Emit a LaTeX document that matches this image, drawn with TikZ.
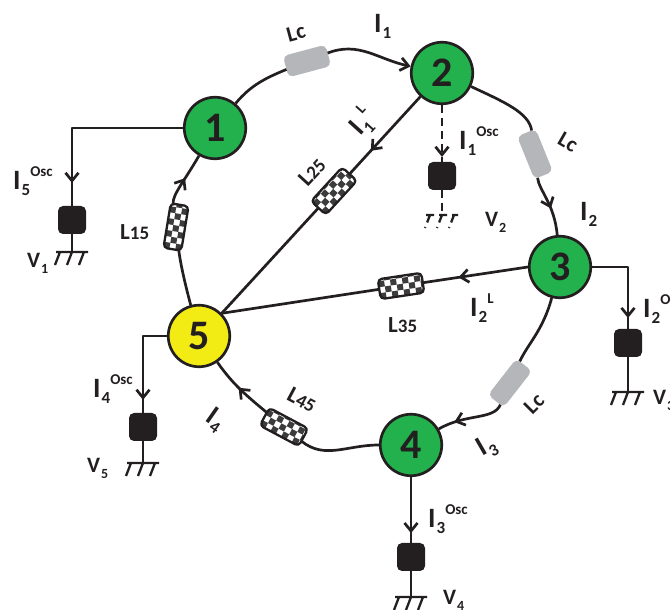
\documentclass[tikz,border=0pt]{standalone}
\usepackage{fontspec}
\setmainfont{Carlito}
\usetikzlibrary{arrows.meta,decorations.markings}
\definecolor{ink}{RGB}{35,31,32}
\definecolor{ngreen}{RGB}{34,177,76}
\definecolor{nyellow}{RGB}{242,235,20}
\definecolor{lgray}{RGB}{180,182,186}
\definecolor{chkdark}{RGB}{60,60,60}
\newcommand{\Icur}[2]{{\fontsize{28}{28}\selectfont I}\kern1pt\raisebox{-6pt}{\fontsize{17}{17}\selectfont #1}\raisebox{13pt}{\fontsize{15}{15}\selectfont #2}}
\newcommand{\Vlab}[1]{{\fontsize{22}{22}\selectfont V}\kern1pt\raisebox{-6pt}{\fontsize{14}{14}\selectfont #1}}
\newcommand{\Llab}[1]{{\fontsize{23}{23}\selectfont L}{\fontsize{19}{19}\selectfont #1}}
\tikzset{
  >={Straight Barb[length=8pt,width=13pt]},
  conn/.style={draw=ink, line width=2.7pt},
  dashpat/.style={dash pattern=on 8pt off 5pt},
  midarrow/.style={postaction={decorate,decoration={markings,mark=at position #1 with {\arrow{>}}}}},
  bus/.style={circle, draw=ink, line width=2.7pt, minimum size=61.5pt, inner sep=0pt, font=\fontsize{42}{42}\selectfont\bfseries, text=ink},
  sq/.style={fill=ink, rounded corners=5pt, minimum size=28pt, inner sep=0pt, outer sep=0pt},
  gbox/.style={fill=lgray, rounded corners=5pt, inner sep=0pt, outer sep=0pt},
  lab/.style={font=\bfseries, text=ink, inner sep=0pt},
  pics/chk/.style n args={2}{code={
    \begin{scope}
      \clip[rounded corners=4pt] (-#1/2,-#2/2) rectangle (#1/2,#2/2);
      \fill[white] (-#1/2,-#2/2) rectangle (#1/2,#2/2);
      \foreach \ci in {0,...,8}{
        \foreach \cj in {0,...,4}{
          \pgfmathtruncatemacro{\cp}{mod(\ci+\cj,2)}
          \ifnum\cp=0
            \fill[chkdark] ({-#1/2+\ci*6},{-#2/2+\cj*6}) rectangle ++(6,6);
          \fi
        }
      }
    \end{scope}
    \node[transform shape, draw=ink, line width=2.3pt, rounded corners=4pt, minimum width=#1pt, minimum height=#2pt, inner sep=0pt, outer sep=0pt] (-b) {};
  }},
  pics/gnd/.style={code={
    \draw[draw=ink, line width=2.3pt] (-16,0) -- (16,0) (-12,0) -- (-17,-13) (0,0) -- (-5,-13) (12,0) -- (7,-13);
  }}
}
\begin{document}
\begin{tikzpicture}[x=1pt,y=1pt,line join=round]
\useasboundingbox (0,0) rectangle (670,610);

% buses
\node[bus, fill=ngreen] (N1) at (215,482) {1};
\node[bus, fill=ngreen] (N2) at (442,537) {2};
\node[bus, fill=ngreen] (N3) at (560,343) {3};
\node[bus, fill=ngreen] (N4) at (411,165) {4};
\node[bus, fill=nyellow] (N5) at (199,274) {5};

% line elements
\node[gbox, rotate=15, minimum width=44pt, minimum height=22pt] (g12) at (307,549) {};
\node[gbox, rotate=-68, minimum width=46pt, minimum height=20pt] (g23) at (535,456) {};
\node[gbox, rotate=52, minimum width=46pt, minimum height=20pt] (g34) at (510,227) {};
\pic[rotate=80.6] (b15) at (176,383) {chk={45}{18}};
\pic[rotate=47.5] (b25) at (334,419) {chk={46}{20}};
\pic[rotate=8.5] (b35) at (401,324) {chk={44}{20}};
\pic[rotate=-28] (b45) at (284,183) {chk={44}{20}};

% ring
\draw[conn] (N1) to[out=50,in=195] (g12);
\draw[conn,->] (g12) to[out=15,in=168] (N2);
\draw[conn] (N2) to[out=-25,in=112] (g23);
\draw[conn,midarrow=0.55] (g23) to[out=-68,in=95] (N3);
\draw[conn] (N3) to[out=-105,in=52] (g34);
\draw[conn,midarrow=0.75] (g34) to[out=232,in=30] (N4);
\draw[conn] (N4) to[out=180,in=-28] (b45-b);
\draw[conn,midarrow=0.53] (b45-b) to[out=152,in=-55] (N5);
\draw[conn] (N5) to[out=105,in=260.6] (b15-b);
\draw[conn,midarrow=0.52] (b15-b) to[out=80.6,in=240] (N1);
% chords
\draw[conn,midarrow=0.7] (N2) -- (b25-b);
\draw[conn] (b25-b) -- (N5.north east);
\draw[conn,midarrow=0.66] (N3.west) -- (b35-b);
\draw[conn] (b35-b) -- (N5.north east);

% oscillator branches
\node[sq] (S1) at (72,390) {};
\coordinate (G1) at (72,358);
\draw[conn,midarrow=0.878] (N1.west) -| (S1);
\draw[conn] (S1) -- (G1);
\pic at (G1) {gnd};

\node[sq] (S2) at (442,434) {};
\coordinate (G2) at (442,395);
\draw[conn,dashpat,midarrow=0.91] (N2) -- (S2);
\draw[conn,dashpat] (S2) -- (G2);
\pic[dashpat] at (G2) {gnd};

\node[sq] (S3) at (628,267) {};
\coordinate (G3) at (628,218);
\draw[conn,midarrow=0.888] (N3.east) -| (S3);
\draw[conn] (S3) -- (G3);
\pic at (G3) {gnd};

\node[sq] (S4) at (411,53) {};
\coordinate (G4) at (411,13);
\draw[conn,midarrow=0.85] (N4) -- (S4);
\draw[conn] (S4) -- (G4);
\pic at (G4) {gnd};

\node[sq] (S5) at (143,183) {};
\coordinate (G5) at (143,147);
\draw[conn,midarrow=0.87] (N5.west) -| (S5);
\draw[conn] (S5) -- (G5);
\pic at (G5) {gnd};

% labels
\node[lab, anchor=base west] (t5osc) at (13,420) {\Icur{5}{Osc}};
\node[lab, anchor=base west] (tv1) at (27,342) {\Vlab{1}};
\node[lab, anchor=base west] (tl15) at (120,370) {\Llab{15}};
\node[lab, anchor=base west] (ti1) at (374,577) {\Icur{1}{}};
\node[lab, rotate=15] (tlc1) at (296,577) {\fontsize{22}{22}\selectfont Lc};
\node[lab, rotate=48] (ti1l) at (362,488) {\Icur{1}{L}};
\node[lab, rotate=47.5] (tl25) at (312,438) {\Llab{25}};
\node[lab, anchor=base west] (ti1osc) at (459,460) {\Icur{1}{Osc}};
\node[lab, anchor=base west] (tv2) at (485,383) {\Vlab{2}};
\node[lab, rotate=-30] (tlc2) at (568,468) {\fontsize{22}{22}\selectfont Lc};
\node[lab, anchor=base west] (ti2) at (580,389) {\Icur{2}{}};
\node[lab, anchor=base west] (ti2osc) at (643,292) {\Icur{2}{Osc}};
\node[lab, anchor=base west] (tv3) at (653,205) {\Vlab{3}};
\node[lab, anchor=base west] (tl35) at (388,277) {\Llab{35}};
\node[lab, anchor=base west] (ti2l) at (470,293) {\Icur{2}{L}};
\node[lab, rotate=45] (tlc3) at (534,206) {\fontsize{22}{22}\selectfont Lc};
\node[lab, rotate=30] (ti3) at (487,163) {\Icur{3}{}};
\node[lab, anchor=base west] (ti3osc) at (428,82) {\Icur{3}{Osc}};
\node[lab, anchor=base west] (tv4) at (443,5) {\Vlab{4}};
\node[lab, rotate=-28] (tl45) at (302,210) {\Llab{45}};
\node[lab, rotate=-35] (ti4) at (215,190) {\Icur{4}{}};
\node[lab, anchor=base west] (ti4osc) at (93,212) {\Icur{4}{Osc}};
\node[lab, anchor=base west] (tv5) at (87,137) {\Vlab{5}};
\end{tikzpicture}
\end{document}
